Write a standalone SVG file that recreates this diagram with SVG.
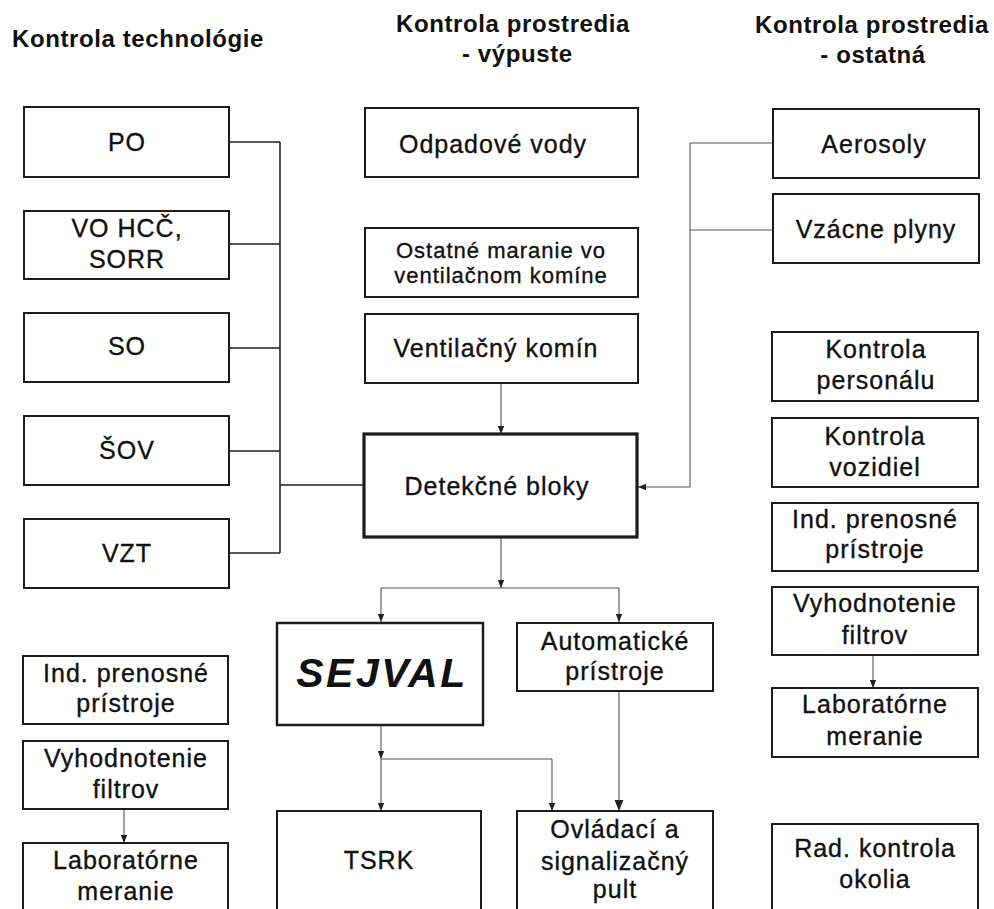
<svg xmlns="http://www.w3.org/2000/svg" width="994" height="909" viewBox="0 0 994 909">
<style>
  .bg{fill:#fff}
  .box{fill:#fff;stroke:#1c1c1c;stroke-width:2}
  .thick{fill:#fff;stroke:#1c1c1c;stroke-width:3.2}
  .mid{fill:#fff;stroke:#1c1c1c;stroke-width:2.5}
  .hd{font-family:"Liberation Sans",Arial,sans-serif;font-weight:bold;font-size:24px;letter-spacing:0.6px;fill:#111}
  .t{font-family:"Liberation Sans",Arial,sans-serif;font-size:25px;letter-spacing:1px;fill:#111;stroke:#111;stroke-width:0.35;text-anchor:middle}
  .s{font-family:"Liberation Sans",Arial,sans-serif;font-size:22px;letter-spacing:1px;fill:#111;stroke:#111;stroke-width:0.35;text-anchor:middle}
  .big{font-family:"Liberation Sans",Arial,sans-serif;font-size:41px;font-weight:bold;font-style:italic;letter-spacing:2.5px;fill:#111;text-anchor:middle}
  .bus{fill:none;stroke:#222;stroke-width:1.6}
  .ln{fill:none;stroke:#555;stroke-width:1.1}
</style>
<defs>
  <marker id="arr" viewBox="0 0 10 10" refX="10" refY="5" markerWidth="8" markerHeight="8" markerUnits="userSpaceOnUse" orient="auto">
    <path d="M0,1 L10,5 L0,9 Z" fill="#222"/>
  </marker>
  <marker id="arrBig" viewBox="0 0 10 10" refX="10" refY="5" markerWidth="11" markerHeight="11" markerUnits="userSpaceOnUse" orient="auto">
    <path d="M0,1 L10,5 L0,9 Z" fill="#222"/>
  </marker>
</defs>
<rect class="bg" x="0" y="0" width="994" height="909"/>

<g id="headers">
  <text class="hd" x="12" y="47">Kontrola technológie</text>
  <text class="hd" x="513" y="32" text-anchor="middle">Kontrola prostredia</text>
  <text class="hd" x="462" y="62">- výpuste</text>
  <text class="hd" x="872" y="33" text-anchor="middle">Kontrola prostredia</text>
  <text class="hd" x="873" y="63" text-anchor="middle">- ostatná</text>
</g>

<g id="connectors">
  <path class="bus" d="M229,142 H280 M229,244 H280 M229,348 H280 M229,451 H280 M229,553 H280 M280,142 V553 M280,485 H364"/>
  <path class="ln" d="M501,383 V434" marker-end="url(#arr)"/>
  <path class="ln" d="M773,143 H690 M773,230 H690 M690,143 V487"/>
  <path class="ln" d="M690,487 H638" marker-end="url(#arr)"/>
  <path class="ln" d="M501,537 V588" marker-end="url(#arr)"/>
  <path class="ln" d="M381,588 H619"/>
  <path class="ln" d="M381,588 V622" marker-end="url(#arr)"/>
  <path class="ln" d="M619,588 V622" marker-end="url(#arr)"/>
  <path class="ln" d="M381,725 V759" marker-end="url(#arr)"/>
  <path class="ln" d="M381,759 H552"/>
  <path class="ln" d="M381,759 V811" marker-end="url(#arr)"/>
  <path class="ln" d="M552,759 V811" marker-end="url(#arr)"/>
  <path class="ln" d="M619,691 V811" marker-end="url(#arrBig)"/>
  <path class="ln" d="M124,809 V843" marker-end="url(#arr)"/>
  <path class="ln" d="M873,655 V688" marker-end="url(#arr)"/>
</g>

<g id="n-po"><rect class="box" x="24" y="107" width="205" height="70"/><text class="t" x="127" y="151">PO</text></g>
<g id="n-vohcc"><rect class="box" x="24" y="211" width="205" height="68"/><text class="t" x="127" y="237">VO HCČ,</text><text class="t" x="127" y="268">SORR</text></g>
<g id="n-so"><rect class="box" x="24" y="313" width="205" height="69"/><text class="t" x="127" y="355">SO</text></g>
<g id="n-sov"><rect class="box" x="24" y="416" width="205" height="69"/><text class="t" x="127" y="459">ŠOV</text></g>
<g id="n-vzt"><rect class="box" x="24" y="519" width="205" height="69"/><text class="t" x="127" y="562">VZT</text></g>
<g id="n-ind-l"><rect class="box" x="23" y="656" width="205" height="68"/><text class="t" x="126" y="682">Ind. prenosné</text><text class="t" x="126" y="712">prístroje</text></g>
<g id="n-vyh-l"><rect class="box" x="23" y="741" width="205" height="68"/><text class="t" x="126" y="767">Vyhodnotenie</text><text class="t" x="126" y="798">filtrov</text></g>
<g id="n-lab-l"><rect class="box" x="23" y="843" width="205" height="90"/><text class="t" x="126" y="869">Laboratórne</text><text class="t" x="126" y="900">meranie</text></g>

<g id="n-odpad"><rect class="box" x="365" y="108" width="273" height="69"/><text class="t" x="493" y="153">Odpadové vody</text></g>
<g id="n-ostatne"><rect class="box" x="365" y="228" width="273" height="69"/><text class="s" x="501" y="258">Ostatné maranie vo</text><text class="s" x="501" y="283">ventilačnom komíne</text></g>
<g id="n-vent"><rect class="box" x="365" y="314" width="273" height="69"/><text class="t" x="496" y="357">Ventilačný komín</text></g>
<g id="n-detek"><rect class="thick" x="364" y="434" width="273" height="103"/><text class="t" x="497" y="495">Detekčné bloky</text></g>
<g id="n-sejval"><rect class="mid" x="277" y="623" width="206" height="102"/><text class="big" x="382" y="687">SEJVAL</text></g>
<g id="n-auto"><rect class="box" x="517" y="623" width="196" height="68"/><text class="t" x="615" y="650">Automatické</text><text class="t" x="615" y="680">prístroje</text></g>
<g id="n-tsrk"><rect class="box" x="277" y="811" width="204" height="120"/><text class="t" x="379" y="869">TSRK</text></g>
<g id="n-ovl"><rect class="box" x="517" y="811" width="196" height="120"/><text class="t" x="615" y="838">Ovládací a</text><text class="t" x="615" y="870">signalizačný</text><text class="t" x="615" y="898">pult</text></g>

<g id="n-aero"><rect class="box" x="773" y="109" width="206" height="69"/><text class="t" x="874" y="153">Aerosoly</text></g>
<g id="n-vzac"><rect class="box" x="773" y="194" width="206" height="69"/><text class="t" x="876" y="238">Vzácne plyny</text></g>
<g id="n-pers"><rect class="box" x="772" y="332" width="206" height="69"/><text class="t" x="876" y="358">Kontrola</text><text class="t" x="876" y="389">personálu</text></g>
<g id="n-voz"><rect class="box" x="772" y="418" width="206" height="69"/><text class="t" x="875" y="445">Kontrola</text><text class="t" x="875" y="476">vozidiel</text></g>
<g id="n-ind-r"><rect class="box" x="772" y="503" width="206" height="68"/><text class="t" x="875" y="528">Ind. prenosné</text><text class="t" x="875" y="558">prístroje</text></g>
<g id="n-vyh-r"><rect class="box" x="772" y="587" width="206" height="68"/><text class="t" x="875" y="612">Vyhodnotenie</text><text class="t" x="875" y="644">filtrov</text></g>
<g id="n-lab-r"><rect class="box" x="772" y="688" width="206" height="69"/><text class="t" x="875" y="713">Laboratórne</text><text class="t" x="875" y="745">meranie</text></g>
<g id="n-rad"><rect class="box" x="772" y="824" width="206" height="110"/><text class="t" x="875" y="857">Rad. kontrola</text><text class="t" x="875" y="888">okolia</text></g>
</svg>
